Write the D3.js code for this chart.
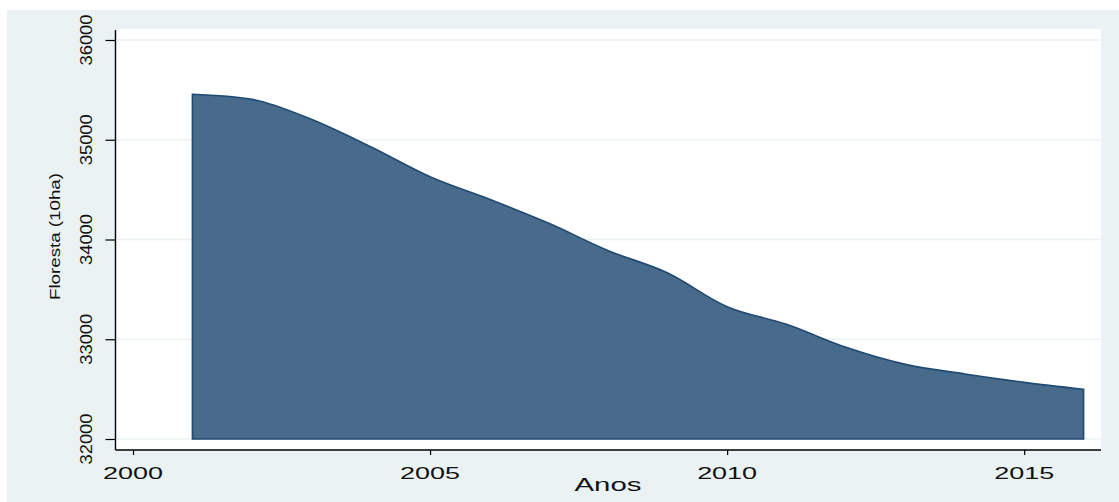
<!DOCTYPE html>
<html>
<head>
<meta charset="utf-8">
<script src="https://cdn.jsdelivr.net/npm/d3@7"></script>
<style>
  html, body { margin: 0; padding: 0; background: #ffffff; }
  svg { display: block; }
  text { font-family: "Liberation Sans", Arial, sans-serif; fill: #111; }
</style>
</head>
<body>
<script>
// ---- data ----
const years = [2001, 2002, 2003, 2004, 2005, 2006, 2007, 2008, 2009, 2010, 2011, 2012, 2013, 2014, 2015, 2016];
const forest = [35456, 35405, 35205, 34930, 34630, 34403, 34162, 33888, 33664, 33326, 33150, 32919, 32748, 32652, 32568, 32498];
const xTicks = [2000, 2005, 2010, 2015];
const yTicks = [32000, 33000, 34000, 35000, 36000];
const xTitle = "Anos";
const yTitle = "Floresta (10ha)";

const W = 1119, H = 502;
const svg = d3.select("body").append("svg").attr("width", W).attr("height", H);

// outer background (Stata s2color)
svg.append("rect").attr("x", 7).attr("y", 10).attr("width", W - 7).attr("height", H - 10).attr("fill", "#eaf2f3");
// plot region
const plot = { left: 115.5, right: 1101, top: 29, bottom: 450 };
svg.append("rect").attr("x", plot.left).attr("y", plot.top)
  .attr("width", plot.right - plot.left).attr("height", plot.bottom - plot.top).attr("fill", "#ffffff");

const x = d3.scaleLinear().domain([2000, 2016]).range([133, 1083.6]);
const y = d3.scaleLinear().domain([32000, 36000]).range([439, 40]);

// gridlines
svg.append("g").selectAll("line").data(yTicks).join("line")
  .attr("x1", plot.left).attr("x2", plot.right)
  .attr("y1", d => y(d)).attr("y2", d => y(d))
  .attr("stroke", "#eaf2f3").attr("stroke-width", 1.5);

const data = years.map((yr, i) => ({ yr, v: forest[i] }));
const area = d3.area().x(d => x(d.yr)).y0(y(32000)).y1(d => y(d.v)).curve(d3.curveMonotoneX);
svg.append("path").datum(data).attr("d", area)
  .attr("fill", "#486a8b").attr("stroke", "#1f4a72").attr("stroke-width", 1.6);

// y axis
const yAxis = svg.append("g").attr("transform", `translate(${plot.left},0)`)
  .call(d3.axisLeft(y).tickValues(yTicks).tickSize(10).tickFormat(""));
yAxis.select(".domain").attr("d", `M0,${plot.top + 1}V${plot.bottom}`).attr("stroke", "#000").attr("stroke-width", 1.4);
yAxis.selectAll(".tick line").attr("stroke", "#000").attr("stroke-width", 1.2);

svg.append("g").selectAll("text").data(yTicks).join("text")
  .attr("transform", d => `translate(92,${y(d)}) rotate(-90)`)
  .attr("text-anchor", "middle")
  .attr("font-size", 17)
  .attr("textLength", 51).attr("lengthAdjust", "spacingAndGlyphs")
  .text(d => d);

// x axis
const xAxis = svg.append("g").attr("transform", `translate(0,${plot.bottom})`)
  .call(d3.axisBottom(x).tickValues(xTicks).tickSize(5).tickFormat(""));
xAxis.select(".domain").attr("d", `M${plot.left},0H${plot.right}`).attr("stroke", "#000").attr("stroke-width", 1.4);
xAxis.selectAll(".tick line").attr("stroke", "#000").attr("stroke-width", 1.2);

svg.append("g").selectAll("text").data(xTicks).join("text")
  .attr("x", d => x(d)).attr("y", 479)
  .attr("text-anchor", "middle")
  .attr("font-size", 17)
  .attr("textLength", 60).attr("lengthAdjust", "spacingAndGlyphs")
  .text(d => d);

// titles
svg.append("text").attr("x", 608).attr("y", 491).attr("text-anchor", "middle")
  .attr("font-size", 19).attr("textLength", 67).attr("lengthAdjust", "spacingAndGlyphs")
  .text(xTitle);
svg.append("text").attr("transform", "translate(60,236.5) rotate(-90)").attr("text-anchor", "middle")
  .attr("font-size", 15).attr("textLength", 127).attr("lengthAdjust", "spacingAndGlyphs")
  .text(yTitle);
</script>
</body>
</html>
